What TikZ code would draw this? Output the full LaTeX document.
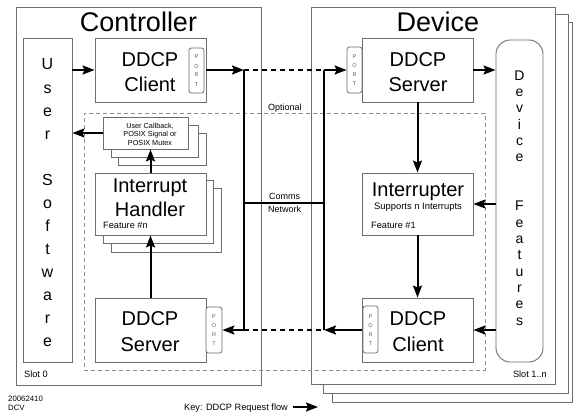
\documentclass[tikz,border=0pt]{standalone}
\usepackage{fontspec}
\setmainfont{Liberation Sans}
\usetikzlibrary{arrows.meta}
\definecolor{bordergray}{RGB}{110,110,110}
\definecolor{optgray}{RGB}{140,140,140}
\begin{document}
\begin{tikzpicture}[x=1pt,y=-1pt,
  box/.style={draw=bordergray,line width=0.9pt,fill=white,rectangle,inner sep=0pt},
  portbox/.style={draw=bordergray,line width=0.8pt,fill=white,rounded corners=2.5pt,rectangle,inner sep=0pt},
  flow/.style={line width=2pt,-{Stealth[length=12pt,width=9pt,inset=2pt]}},
  netline/.style={line width=2pt},
  netdash/.style={line width=1.2pt,dash pattern=on 5pt off 4pt},
  optbox/.style={draw=optgray,line width=0.9pt,dash pattern=on 4pt off 3pt,rectangle,inner sep=0pt},
  lbl/.style={inner sep=0pt,anchor=base},
  lbll/.style={inner sep=0pt,anchor=base west},
  lblr/.style={inner sep=0pt,anchor=base east},
  big/.style={font=\fontsize{27}{30}\selectfont},
  mid/.style={font=\fontsize{20}{24}\selectfont},
  small/.style={font=\fontsize{9.2}{11}\selectfont},
  tiny/.style={font=\fontsize{7.3}{8.7}\selectfont},
  portl/.style={inner sep=0pt,anchor=base,font=\fontsize{5.5}{6}\selectfont,text=black!65},
]
\useasboundingbox (0,0) rectangle (575,412);

% outer boxes
\node[box,minimum width=245pt,minimum height=378pt] (ctrl) at (138.5,196) {};
\node[box,minimum width=240pt,minimum height=380pt] (dev3) at (452,212) {};
\node[box,minimum width=245pt,minimum height=379pt] (dev2) at (445.5,203.5) {};
\node[box,minimum width=244pt,minimum height=377pt] (dev1) at (433,195.5) {};

\node[lbl,big] (ctrltitle) at (138.5,31.5) {Controller};
\node[lbl,big] (devtitle) at (438,31.5) {Device};

% optional region
\node[optbox,minimum width=401pt,minimum height=257pt] (opt) at (284.5,241.5) {};
\node[lbll,font=\fontsize{9}{11}\selectfont] (optlbl) at (268,110) {Optional};

% user software
\node[box,minimum width=49pt,minimum height=324pt] (us) at (47.5,200) {};
\foreach \L/\k in {U/0,s/1,e/2,r/3,S/5,o/6,f/7,t/8,w/9,a/10,r/11,e/12}
  \node[lbl,font=\fontsize{16}{18}\selectfont] (usl\k) at (47.5,{70+23*\k}) {\L};

% device features
\node[box,rounded corners=14pt,minimum width=47pt,minimum height=322pt] (feat) at (519.5,201) {};
\foreach \L/\k in {D/0,e/1,v/2,i/3,c/4,e/5,F/8,e/9,a/10,t/11,u/12,r/13,e/14,s/15}
  \node[lbl,font=\fontsize{14}{16}\selectfont] (fl\k) at (519.5,{80+16.35*\k}) {\L};

% controller client
\node[box,minimum width=111pt,minimum height=64pt] (cclient) at (150.5,70) {};
\node[portbox,minimum width=15pt,minimum height=45pt] (ccport) at (196.5,70.5) {};
\node[lbl,mid] (cclient1) at (150,66.5) {DDCP};
\node[lbl,mid] (cclient2) at (150,91.5) {Client};

% callback stack
\node[box,minimum width=88pt,minimum height=32pt] (cb3) at (162,149) {};
\node[box,minimum width=87pt,minimum height=32pt] (cb2) at (154.5,141) {};
\node[box,minimum width=85pt,minimum height=32pt] (cb) at (145.5,133) {};
\node[lbl,tiny] (cbt1) at (150,128) {User Callback,};
\node[lbl,tiny] (cbt2) at (150,136.7) {POSIX Signal or};
\node[lbl,tiny] (cbt3) at (150,145.4) {POSIX Mutex};

% interrupt handler stack
\node[box,minimum width=110pt,minimum height=64pt] (ih3) at (166,220) {};
\node[box,minimum width=110pt,minimum height=63pt] (ih2) at (158,211.5) {};
\node[box,minimum width=111pt,minimum height=62pt] (ih) at (150.5,204) {};
\node[lbl,mid] (iht1) at (150,192.7) {Interrupt};
\node[lbl,mid] (iht2) at (150,216.7) {Handler};
\node[lbll,small] (iht3) at (103,228) {Feature \#n};

% controller server
\node[box,minimum width=111pt,minimum height=64pt] (cserver) at (150.5,330) {};
\node[portbox,minimum width=16pt,minimum height=46pt] (csport) at (214,330) {};
\node[lbl,mid] (cserver1) at (150,325.5) {DDCP};
\node[lbl,mid] (cserver2) at (150,351.5) {Server};

% device server
\node[box,minimum width=111pt,minimum height=64pt] (dserver) at (417.5,70) {};
\node[portbox,minimum width=15pt,minimum height=46pt] (dsport) at (354.5,70) {};
\node[lbl,mid] (dserver1) at (418,66.5) {DDCP};
\node[lbl,mid] (dserver2) at (418,91.5) {Server};

% interrupter
\node[box,minimum width=111pt,minimum height=62pt] (intr) at (417.5,204) {};
\node[lbl,mid] (intr1) at (418,196.7) {Interrupter};
\node[lbl,font=\fontsize{9.4}{11}\selectfont] (intr2) at (418,209.5) {Supports n Interrupts};
\node[lbll,small] (intr3) at (371,228) {Feature \#1};

% device client
\node[box,minimum width=111pt,minimum height=64pt] (dclient) at (417.5,330) {};
\node[portbox,minimum width=15pt,minimum height=47pt] (dcport) at (370.5,329.5) {};
\node[lbl,mid] (dclient1) at (418,325.5) {DDCP};
\node[lbl,mid] (dclient2) at (418,351.5) {Client};

% PORT letters
\foreach \p in {ccport,csport,dsport,dcport}
  \foreach \L [count=\k] in {P,O,R,T}
    \node[portl] (\p-\k) at ([shift={(0,{(\k-2.5)*9+2})}]\p.center) {\L};

% network
\coordinate (nl1) at (244,70);
\coordinate (nl2) at (244,330);
\coordinate (nr1) at (324,70);
\coordinate (nr2) at (324,330);
\coordinate (nlm) at (244,203);
\coordinate (nrm) at (324,203);
\draw[netline] (nl1) -- (nl2);
\draw[netline] (nr1) -- (nr2);
\draw[netline] (nlm) -- (nrm);
\draw[netdash] (nl1) -- (nr1);
\draw[netdash] (nl2) -- (nr2);
\node[lbll,font=\fontsize{9}{11}\selectfont] (comms) at (269,199.5) {Comms};
\node[lbll,font=\fontsize{9}{11}\selectfont] (network) at (268,212.5) {Network};

% flows
\draw[flow] (us.east |- cclient.west) -- (cclient.west);
\draw[flow] (cclient.east) -- (nl1);
\draw[flow] (nl2) -- (csport.east);
\draw[flow] (nr1) -- (dsport.west);
\draw[flow] (dclient.west) -- (nr2);
\draw[flow] (dserver.east) -- (feat.west |- dserver.east);
\draw[flow] (feat.west |- intr.east) -- (intr.east);
\draw[flow] (feat.west |- dclient.east) -- (dclient.east);
\draw[flow] (dserver.south) -- (intr.north);
\draw[flow] (intr.south) -- (dclient.north);
\draw[flow] (cserver.north) -- (ih.south);
\draw[flow] (ih.north) -- (ih.north |- cb.south);
\draw[flow] (cb.west) -- (us.east |- cb.west);

% slot labels
\node[lbll,small] (slot0) at (24,377) {Slot 0};
\node[lblr,small] (slotn) at (547,377) {Slot 1..n};

% footer
\node[lbll,font=\fontsize{7.8}{9}\selectfont] (date) at (8,401.7) {20062410};
\node[lbll,font=\fontsize{7.8}{9}\selectfont] (dcv) at (8,410) {DCV};
\node[lbll,font=\fontsize{9.2}{11}\selectfont] (key) at (184,410.5) {Key: DDCP Request flow};
\coordinate (keya) at (293,407);
\coordinate (keyb) at (318,407);
\draw[flow] (keya) -- (keyb);
\end{tikzpicture}
\end{document}
